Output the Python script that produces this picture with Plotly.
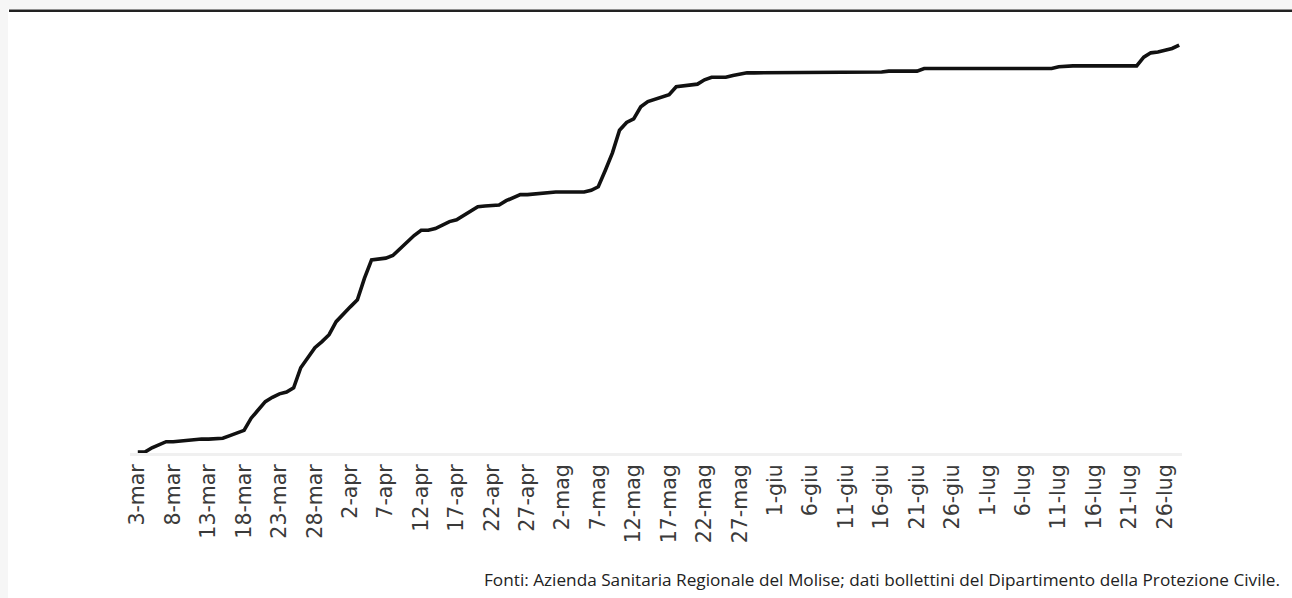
import pandas as pd
import plotly.graph_objects as go

# cumulative cases, one value per day from 3 March to 28 July
cases = [
    1, 1, 6, 10, 13, 13, 14, 14, 15, 16,
    16, 16, 17, 20, 23, 26, 40, 49, 59, 64,
    68, 70, 75, 98, 109, 121, 128, 136, 151, 160,
    168, 176, 201, 222, 223, 224, 227, 235, 243, 250,
    256, 256, 258, 262, 266, 268, 273, 279, 283, 284,
    285, 285, 290, 294, 297, 297, 298, 299, 299, 300,
    300, 300, 300, 300, 302, 306, 325, 345, 371, 380,
    384, 398, 404, 407, 409, 412, 421, 422, 422, 424,
    429, 432, 432, 432, 434, 436, 437, 437, 437, 437,
    437, 437, 437, 437, 437, 437, 437, 437, 438, 438,
    438, 438, 438, 438, 438, 438, 439, 439, 439, 439,
    439, 442, 442, 442, 442, 442, 442, 442, 442, 442,
    442, 442, 442, 442, 442, 442, 442, 442, 442, 442,
    444, 445, 445, 445, 445, 445, 445, 445, 445, 445,
    445, 445, 455, 460, 461, 463, 465, 469,
]

month_names = {3: "mar", 4: "apr", 5: "mag", 6: "giu", 7: "lug"}
dates = pd.date_range("2020-03-03", periods=len(cases), freq="D")
categories = [f"{d.day}-{month_names[d.month]}" for d in dates]
tick_labels = categories[::5][:30]

source_text = ("Fonti: Azienda Sanitaria Regionale del Molise; "
               "dati bollettini del Dipartimento della Protezione Civile.")

W, H = 1292, 598
ML, MR, MT, MB = 130, 110, 25, 145
pw = W - ML - MR
ph = H - MT - MB


def px(x):
    return (x - ML) / pw


def py(y):
    return (H - MB - y) / ph


fig = go.Figure()
fig.add_trace(go.Scatter(
    x=categories, y=cases, mode="lines",
    line=dict(color="#111111", width=3.6),
    hoverinfo="skip", showlegend=False,
))

fig.update_layout(
    width=W, height=H,
    margin=dict(l=ML, r=MR, t=MT, b=MB),
    paper_bgcolor="white", plot_bgcolor="white",
    xaxis=dict(
        type="category",
        range=[-1.1, 147.4],
        tickmode="array", tickvals=tick_labels, ticktext=tick_labels,
        tickangle=-90,
        tickfont=dict(family="DejaVu Sans", size=20.5, color="#3a3a3a"),
        showgrid=False, zeroline=False,
        showline=True, linecolor="#f0f0f0", linewidth=3,
        ticks="",
    ),
    yaxis=dict(
        range=[0, 492], showgrid=False, zeroline=False,
        showticklabels=False, showline=False, ticks="",
    ),
    shapes=[
        dict(type="rect", xref="paper", yref="paper",
             x0=px(0), x1=px(8), y0=py(H), y1=py(0),
             fillcolor="#f6f6f6", line=dict(width=0), layer="below"),
        dict(type="rect", xref="paper", yref="paper",
             x0=px(0), x1=px(W), y0=py(9), y1=py(0),
             fillcolor="#f6f6f6", line=dict(width=0), layer="below"),
        dict(type="rect", xref="paper", yref="paper",
             x0=px(9), x1=px(W), y0=py(12), y1=py(9.5),
             fillcolor="#222222", line=dict(width=0), layer="above"),
    ],
    annotations=[
        dict(text=source_text, xref="paper", yref="paper",
             x=px(1282), y=py(579), xanchor="right", yanchor="middle",
             showarrow=False,
             font=dict(family="Open Sans", size=17.2, color="#222222")),
    ],
)

fig.write_html(
    "out.html",
    config={"displayModeBar": False},
    post_script="document.body.style.margin='0';document.body.style.overflow='hidden';",
)
